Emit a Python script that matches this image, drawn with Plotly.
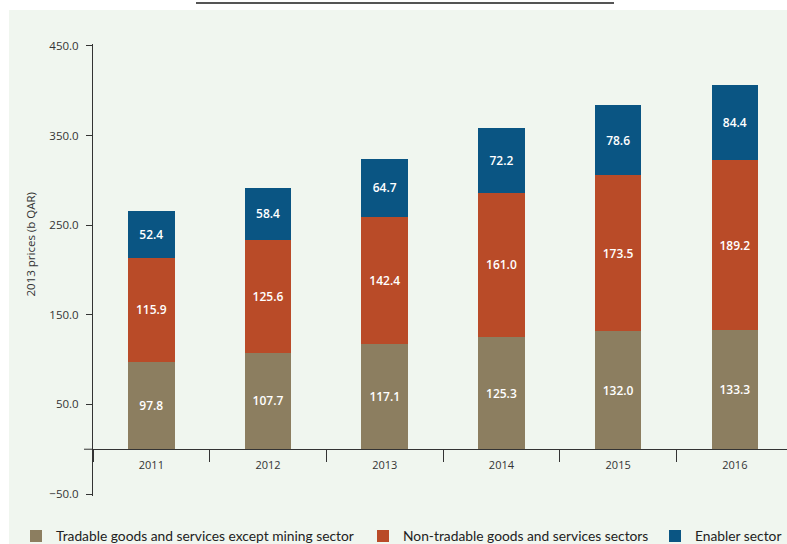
import plotly.graph_objects as go

years = ["2011", "2012", "2013", "2014", "2015", "2016"]
tradable = [97.8, 107.7, 117.1, 125.3, 132.0, 133.3]
non_tradable = [115.9, 125.6, 142.4, 161.0, 173.5, 189.2]
enabler = [52.4, 58.4, 64.7, 72.2, 78.6, 84.4]
series_names = ["Tradable goods and services except mining sector",
                "Non-tradable goods and services sectors",
                "Enabler sector"]
series_colors = ["#8C7E60", "#B94B28", "#0A5583"]
y_title = "2013 prices (b QAR)"

W, H = 787, 544
L, R, T, B = 93, 0, 44, 48
pw, ph = W - L - R, H - T - B
ymin, ymax = -52.2, 452.2
cat_px = 116.7

fig = go.Figure()
legends = ["legend", "legend2", "legend3"]
for name, vals, col, lg in zip(series_names, [tradable, non_tradable, enabler], series_colors, legends):
    fig.add_trace(go.Bar(
        x=years, y=vals, name=name, marker=dict(color=col, line=dict(width=0)),
        width=0.4, texttemplate="%{y:.1f}", textposition="inside",
        insidetextanchor="middle", textangle=0, constraintext="none",
        textfont=dict(family="Open Sans", size=12, color="white", weight=600),
        legend=lg,
    ))

def px_x(p):
    return (p - L) / pw

def px_y(p):
    return (H - B - p) / ph

shapes = [
    dict(type="rect", xref="paper", yref="paper", x0=px_x(9), x1=1.02, y0=-0.2, y1=px_y(10),
         fillcolor="#F0F6EF", line=dict(width=0), layer="below"),
    dict(type="line", xref="paper", yref="paper", x0=px_x(196), x1=px_x(614), y0=px_y(3), y1=px_y(3),
         line=dict(color="#555555", width=2)),
    dict(type="line", xref="paper", yref="paper", x0=px_x(84), x1=0, y0=(0 - ymin) / (ymax - ymin),
         y1=(0 - ymin) / (ymax - ymin), line=dict(color="#333333", width=1)),
]

legend_common = dict(orientation="h", xref="container", yref="container", yanchor="middle",
                     xanchor="left", bgcolor="rgba(0,0,0,0)",
                     font=dict(family="Lato", size=13.8, color="#222222"))

fig.update_layout(
    width=W, height=H,
    margin=dict(l=L, r=R, t=T, b=B),
    paper_bgcolor="white", plot_bgcolor="rgba(0,0,0,0)",
    barmode="stack",
    showlegend=True,
    legend=dict(x=16 / W, y=(H - 536) / H, **legend_common),
    legend2=dict(x=363 / W, y=(H - 536) / H, **legend_common),
    legend3=dict(x=655 / W, y=(H - 536) / H, **legend_common),
    xaxis=dict(type="category", range=[-0.5, -0.5 + pw / cat_px],
               anchor="free", position=(0 - ymin) / (ymax - ymin),
               showline=True, linecolor="#333333", linewidth=1,
               ticks="outside", tickson="boundaries", ticklen=12, tickcolor="#333333",
               ticklabelstandoff=6,
               tickfont=dict(family="Open Sans", size=11, color="#333333"),
               showgrid=False, zeroline=False),
    yaxis=dict(range=[ymin, ymax], tick0=-50, dtick=100, tickformat=".1f",
               showline=True, linecolor="#333333", linewidth=1,
               ticks="outside", ticklen=6, tickcolor="#333333",
               ticklabelstandoff=5,
               tickfont=dict(family="Open Sans", size=11.5, color="#333333"),
               showgrid=False, zeroline=False),
    shapes=shapes,
    annotations=[dict(text=y_title, xref="paper", yref="paper", x=px_x(20), y=px_y(245),
                      textangle=-90, showarrow=False,
                      font=dict(family="Open Sans", size=11.5, color="#333333"))],
)

fig.write_html("out.html")
